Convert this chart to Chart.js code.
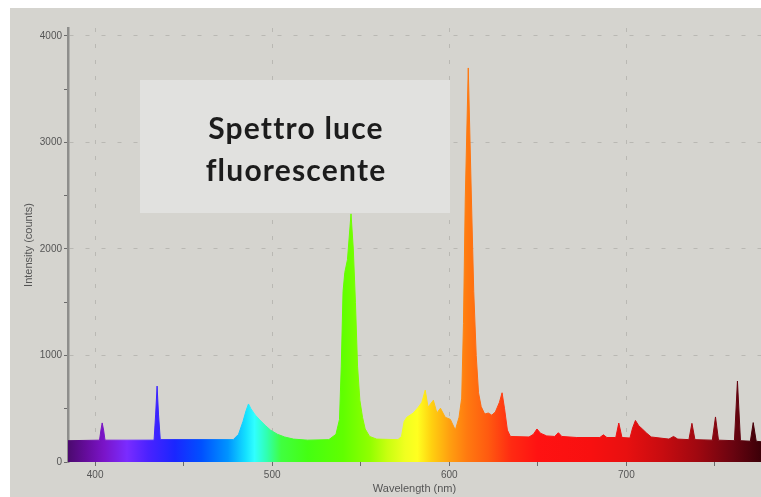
<!DOCTYPE html>
<html>
<head>
<meta charset="utf-8">
<script src="https://cdn.jsdelivr.net/npm/chart.js@4.4.1/dist/chart.umd.min.js"></script>
<style>
  html, body { margin: 0; padding: 0; background: #ffffff; }
  #wrap { position: relative; width: 761px; height: 497px; }
  canvas { display: block; }
</style>
</head>
<body>
<div id="wrap"><canvas id="spectrum" width="761" height="497"></canvas></div>
<script>
// Fluorescent lamp emission spectrum (wavelength in nm, intensity in counts)
const wavelengths = [
  384.7, 402.5, 403.3, 404.0, 404.8, 405.6,
  433.3, 434.2, 435.0, 435.8, 436.8,
  478.0, 481.0, 483.5, 485.2, 486.6, 488.0, 490.5, 493.0, 496.0, 499.0, 503.0, 507.0, 512.0, 520.0,
  532.0, 536.0, 538.0, 539.0, 540.0, 541.0, 542.5, 544.5, 545.8, 547.0, 548.2, 549.5, 551.0, 552.5, 555.0, 559.0,
  571.0, 573.0, 574.5, 576.0, 579.7, 582.5, 584.5, 586.4, 588.0, 591.0, 593.0, 595.0, 597.7, 600.6, 603.4, 605.5,
  607.0, 608.0, 609.0, 610.7, 612.5, 613.8, 615.2, 616.5, 618.0, 620.0, 622.0, 624.0, 626.0, 628.3, 629.8, 631.2, 632.8,
  634.5, 645.0, 647.5, 649.5, 651.5, 655.0, 659.5, 661.6, 663.5, 672.0, 685.0, 687.0, 689.0,
  694.0, 695.7, 697.5, 702.0, 703.5, 705.1, 707.0, 709.0, 711.5, 714.0, 724.0, 726.6, 729.0,
  735.3, 737.0, 738.7, 748.5, 750.3, 752.0, 761.0, 762.7, 764.4, 770.0, 771.6, 773.3, 776.0
];
const counts = [
  200, 205, 300, 367, 300, 205,
  205, 450, 713, 450, 210,
  210, 260, 380, 480, 545, 500, 440, 395, 345, 300, 260, 235, 215, 205,
  210, 260, 400, 900, 1600, 1780, 1900, 2330, 2000, 1500, 900, 580, 420, 310, 240, 215,
  210, 240, 380, 420, 460, 515, 560, 675, 515, 580, 460, 505, 420, 400, 300, 420,
  600, 1300, 2460, 3700, 2460, 1600, 1000, 650, 520, 450, 460, 440, 470, 560, 650, 500, 300,
  240, 235, 260, 310, 270, 245, 240, 275, 240, 230, 230, 255, 230,
  230, 366, 230, 225, 320, 390, 340, 310, 270, 235, 215, 240, 215,
  210, 363, 210, 205, 423, 205, 200, 760, 200, 195, 370, 195, 190
];

// Axis ticks (majors carry labels, minors are marks only)
const xTicks = [400, 450, 500, 550, 600, 650, 700, 750];
const xLabelled = [400, 500, 600, 700];
const yTicks = [0, 500, 1000, 1500, 2000, 2500, 3000, 3500, 4000];
const yLabelled = [0, 1000, 2000, 3000, 4000];

const titleLines = ['Spettro luce', 'fluorescente'];
const xTitle = 'Wavelength (nm)';
const yTitle = 'Intensity (counts)';

// Colour of the fill along the visible spectrum
const spectrumStops = [
  [384, '#4b0a6e'], [395, '#650c9c'], [405, '#7a14c8'], [418, '#7a2cff'],
  [430, '#4a22ff'], [445, '#1a26ff'], [460, '#0050ff'], [475, '#0094ff'],
  [485, '#14e0ff'], [490, '#30ffff'], [497, '#30ffb0'], [505, '#40ff40'],
  [520, '#44ff12'], [540, '#60ff00'], [555, '#90ff00'], [565, '#c8ff10'],
  [575, '#f0ff20'], [582, '#ffff20'], [590, '#ffd010'], [600, '#ffa010'],
  [610, '#ff7a10'], [622, '#ff5a10'], [635, '#ff2a12'], [650, '#ff1212'],
  [680, '#f81010'], [700, '#e81010'], [720, '#c80c10'], [740, '#a00810'],
  [760, '#6a0410'], [776, '#3c0008']
];

const X_MIN = 384.7, X_MAX = 776;
const Y_MIN = 0, Y_MAX = 4075;
const AXIS_FONT = '"Liberation Sans", Arial, sans-serif';

function spectrumFill(context) {
  const chart = context.chart;
  const area = chart.chartArea;
  const xs = chart.scales.x;
  if (!area || !xs) return '#ff0000';
  const x0 = xs.getPixelForValue(X_MIN);
  const x1 = xs.getPixelForValue(X_MAX);
  const g = chart.ctx.createLinearGradient(x0, 0, x1, 0);
  spectrumStops.forEach(([wl, col]) => {
    const t = Math.min(1, Math.max(0, (wl - X_MIN) / (X_MAX - X_MIN)));
    g.addColorStop(t, col);
  });
  return g;
}

const panelBackground = {
  id: 'panelBackground',
  beforeDraw(chart) {
    const c = chart.ctx;
    c.save();
    c.fillStyle = '#ffffff';
    c.fillRect(0, 0, chart.width, chart.height);
    c.fillStyle = '#d5d4cf';
    c.fillRect(10, 8, chart.width - 10, chart.height - 8);
    c.restore();
  }
};

const captionBox = {
  id: 'captionBox',
  afterDraw(chart) {
    const c = chart.ctx;
    c.save();
    c.fillStyle = '#e1e1df';
    c.fillRect(140, 80, 310, 133);
    c.fillStyle = '#1c1c1c';
    c.font = 'bold 30px Lato, "Open Sans", sans-serif';
    if ('letterSpacing' in c) c.letterSpacing = '1.2px';
    c.textAlign = 'center';
    c.textBaseline = 'alphabetic';
    c.fillText(titleLines[0], 296, 139);
    c.fillText(titleLines[1], 296, 181);
    c.restore();
  }
};

const points = wavelengths.map((w, i) => ({ x: w, y: counts[i] }));

new Chart(document.getElementById('spectrum'), {
  type: 'line',
  data: {
    datasets: [{
      data: points,
      fill: 'origin',
      backgroundColor: spectrumFill,
      borderColor: spectrumFill,
      borderWidth: 1,
      pointRadius: 0,
      tension: 0
    }]
  },
  options: {
    responsive: false,
    devicePixelRatio: 1,
    animation: false,
    events: [],
    layout: { padding: { left: 10, top: 28, right: 0, bottom: 0 } },
    plugins: { legend: { display: false }, tooltip: { enabled: false } },
    scales: {
      x: {
        type: 'linear',
        min: X_MIN,
        max: X_MAX,
        afterBuildTicks: s => { s.ticks = xTicks.map(v => ({ value: v })); },
        afterFit: s => { s.height = 35; },
        ticks: {
          autoSkip: false,
          maxRotation: 0,
          padding: 3,
          color: '#555555',
          font: { family: AXIS_FONT, size: 10 },
          callback: v => xLabelled.includes(v) ? String(v) : ''
        },
        grid: {
          color: ctx => (ctx.tick && xLabelled.includes(ctx.tick.value)) ? '#b9b8b3' : 'rgba(0,0,0,0)',
          lineWidth: 1,
          tickColor: '#6a6a6a',
          tickLength: 4,
          tickWidth: 1
        },
        border: { display: false, dash: [4, 12] },
        title: {
          display: true,
          text: xTitle,
          color: '#555555',
          font: { family: AXIS_FONT, size: 11 },
          padding: { top: 0, bottom: 1 }
        }
      },
      y: {
        type: 'linear',
        min: Y_MIN,
        max: Y_MAX,
        afterBuildTicks: s => { s.ticks = yTicks.map(v => ({ value: v })); },
        afterFit: s => { s.width = 58; },
        ticks: {
          autoSkip: false,
          padding: 2,
          color: '#555555',
          font: { family: AXIS_FONT, size: 10 },
          callback: v => yLabelled.includes(v) ? String(v) : ''
        },
        grid: {
          color: ctx => (ctx.tick && ctx.tick.value > 0 && yLabelled.includes(ctx.tick.value)) ? '#b9b8b3' : 'rgba(0,0,0,0)',
          lineWidth: 1,
          tickColor: '#6a6a6a',
          tickLength: 4,
          tickWidth: 1
        },
        border: { display: true, color: '#8e8e8c', width: 2.5, dash: [4, 12] },
        title: {
          display: true,
          text: yTitle,
          color: '#555555',
          font: { family: AXIS_FONT, size: 11 },
          padding: { top: 12, bottom: 0 }
        }
      }
    }
  },
  plugins: [panelBackground, captionBox]
});
</script>
</body>
</html>
